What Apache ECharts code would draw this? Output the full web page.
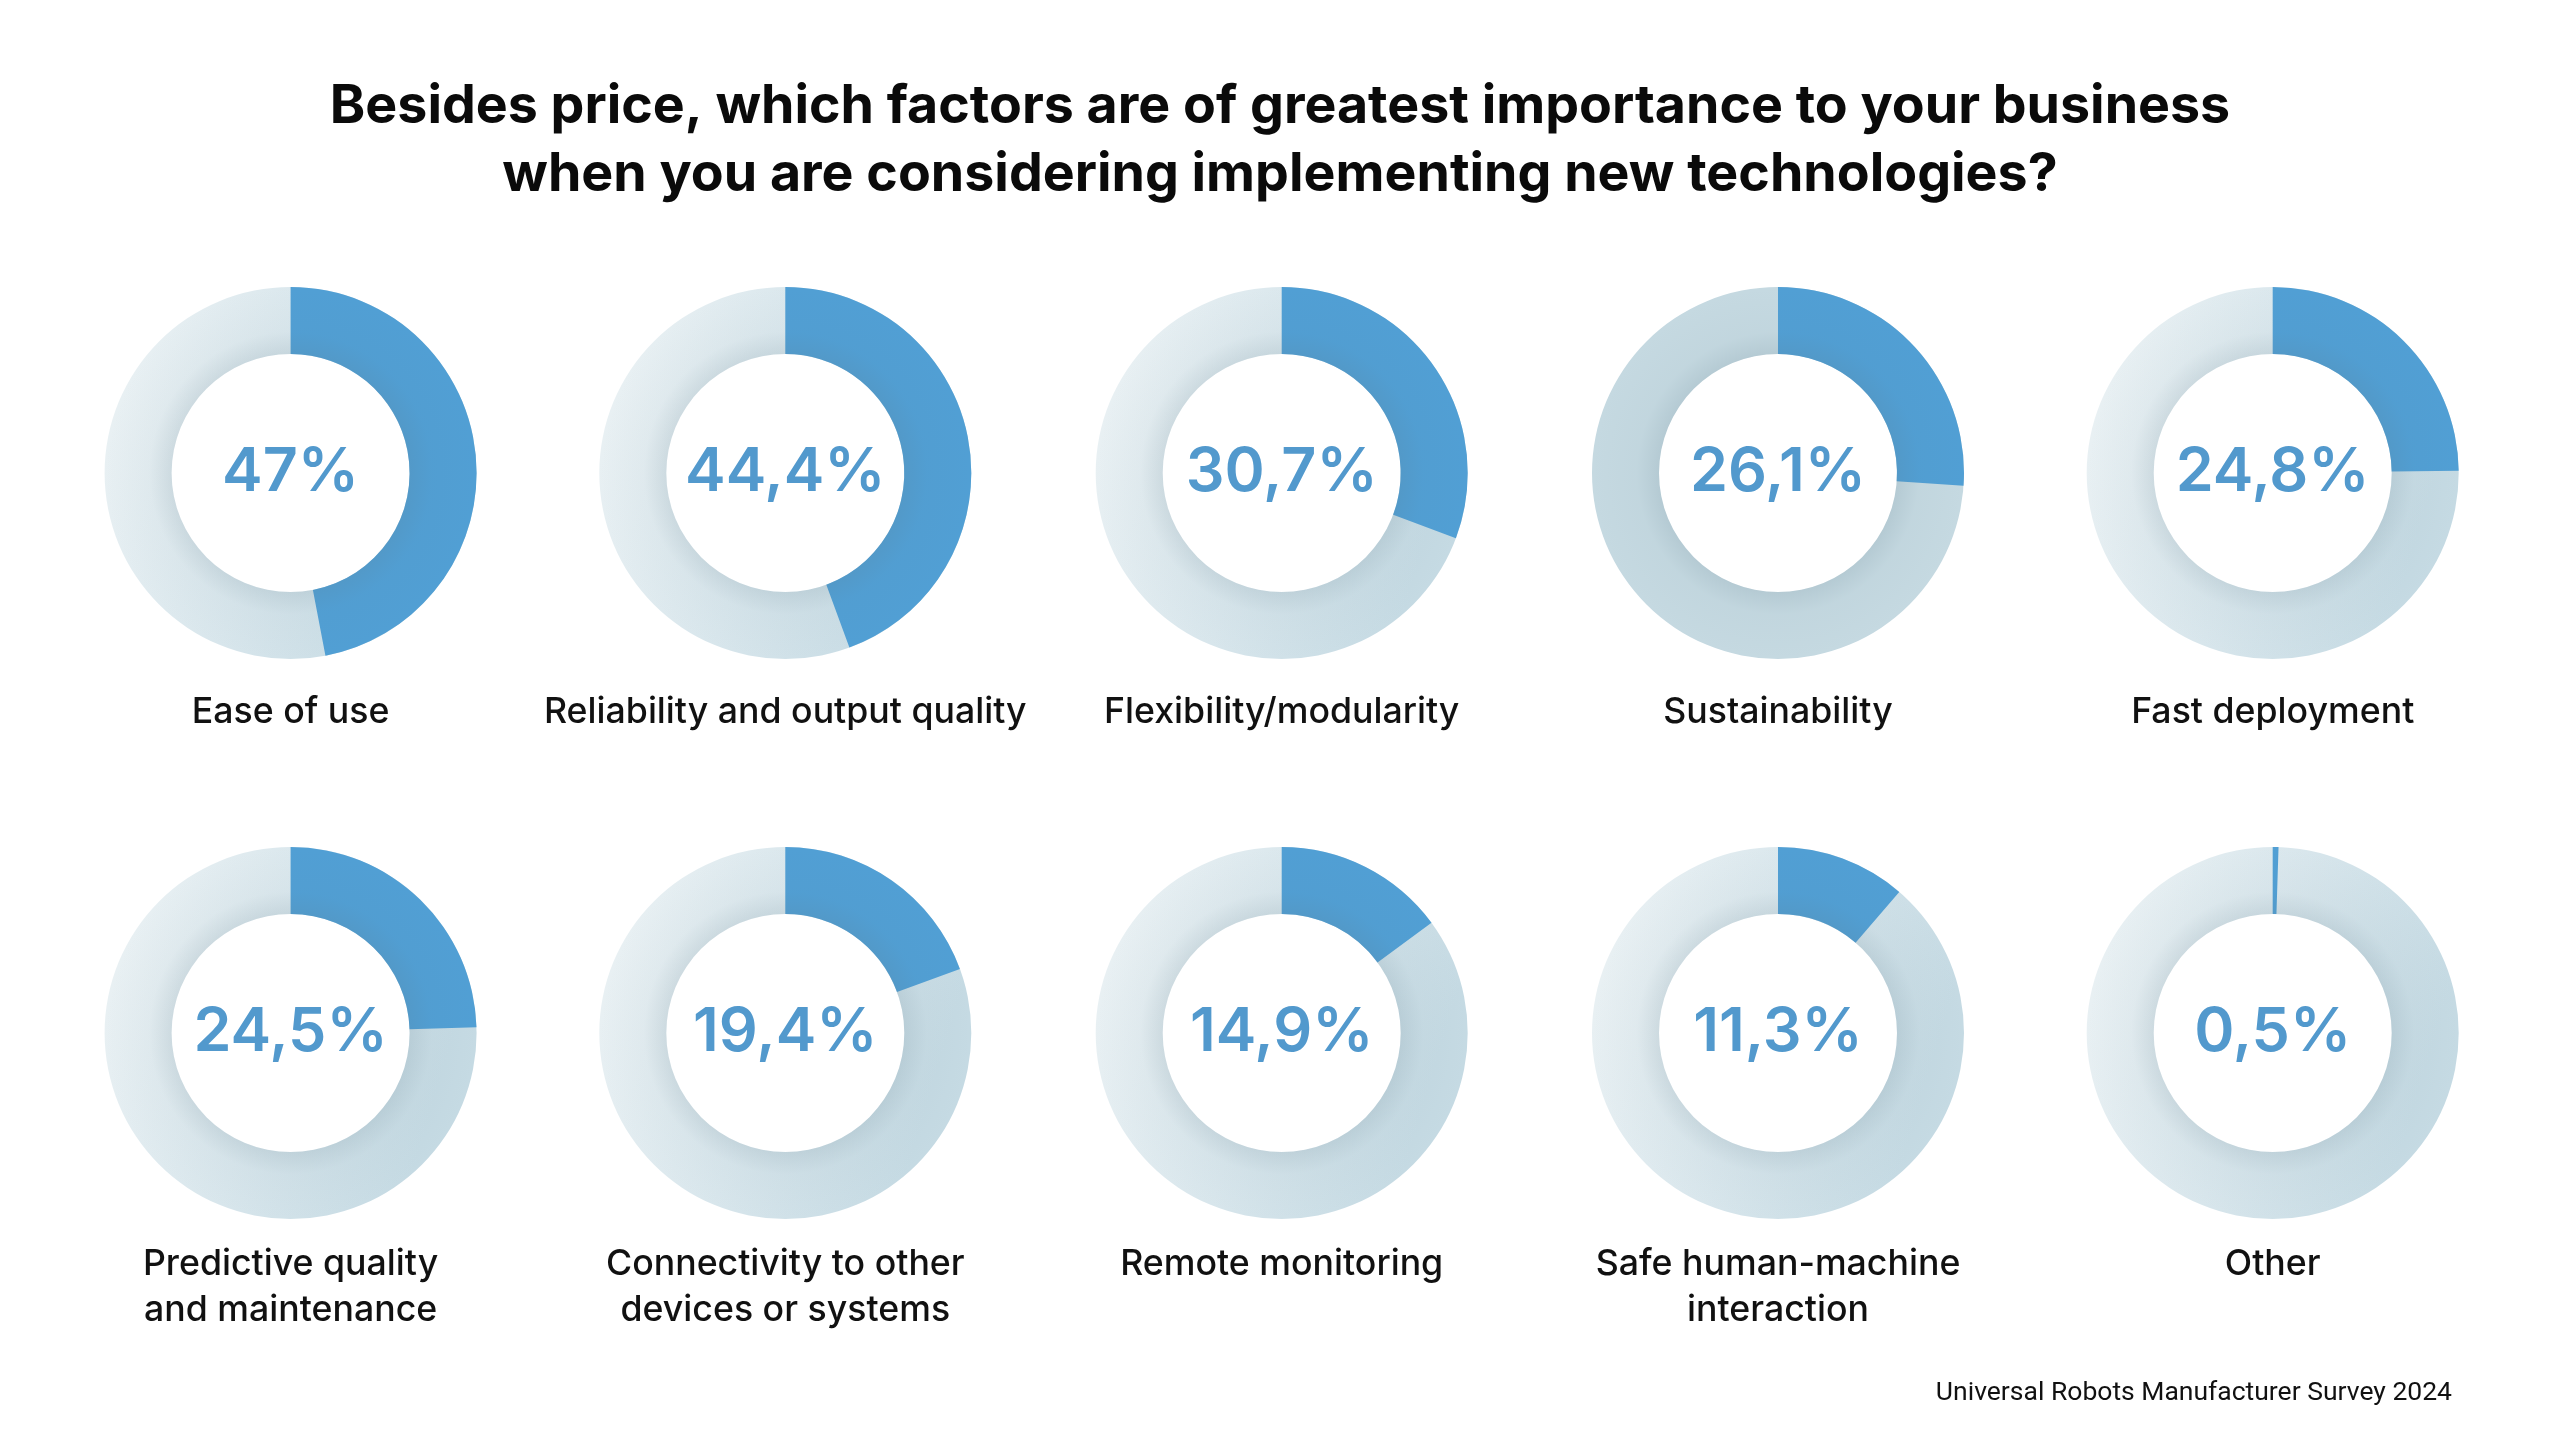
<!DOCTYPE html>
<html><head><meta charset="utf-8">
<script src="https://cdn.jsdelivr.net/npm/echarts@6/dist/echarts.min.js"></script>
<style>html,body{margin:0;padding:0;background:#fff}#c{width:2560px;height:1440px}</style>
</head><body><div id="c"></div>
<script>
// ---- data ----
const categories = [
  "Ease of use", "Reliability and output quality", "Flexibility/modularity", "Sustainability", "Fast deployment",
  "Predictive quality\nand maintenance", "Connectivity to other\ndevices or systems", "Remote monitoring",
  "Safe human-machine\ninteraction", "Other"
];
const values = [47, 44.4, 30.7, 26.1, 24.8, 24.5, 19.4, 14.9, 11.3, 0.5];
const titleText = "Besides price, which factors are of greatest importance to your business\nwhen you are considering implementing new technologies?";
const sourceText = "Universal Robots Manufacturer Survey 2024";

// ---- layout / style ----
const colX = [290.6, 785.3, 1281.7, 1778, 2272.7];
const rowY = [473, 1033];
const labelTop = [689, 1241];
const R_IN = 119, R_OUT = 186;
const BLUE = '#519fd4';
const TEXT_BLUE = '#5299cd';

function fmt(v) { return String(v).replace('.', ',') + '%'; }

const chart = echarts.init(document.getElementById('c'), null, {renderer: 'canvas'});
const series = [];
const graphics = [];

values.forEach((v, i) => {
  const cx = colX[i % 5], cy = rowY[Math.floor(i / 5)];
  const flat = (i === 3);
  const ringColor = flat ? '#c5d9e1' : new echarts.graphic.LinearGradient(0, 0, 1, 0.3, [
    {offset: 0, color: '#edf3f5'},
    {offset: 0.55, color: '#d8e6ec'},
    {offset: 1, color: '#c5dae3'}
  ]);
  series.push({
    type: 'pie', silent: true, center: [cx, cy], radius: [R_IN, R_OUT],
    label: {show: false}, labelLine: {show: false}, z: 1,
    itemStyle: {color: ringColor, borderWidth: 0},
    data: [{value: 100, name: 'bg' + i}], animation: false
  });
  series.push({
    type: 'pie', silent: true, center: [cx, cy], radius: [R_IN, R_OUT], startAngle: 90, clockwise: true,
    labelLine: {show: false}, z: 2, animation: false,
    data: [
      {value: v, name: categories[i], itemStyle: {color: BLUE, borderWidth: 0},
        label: {show: true, position: 'center', formatter: () => fmt(v),
          fontFamily: 'Inter', fontWeight: 600, fontSize: 61, color: TEXT_BLUE}},
      {value: 100 - v, name: 'rest', itemStyle: {color: 'rgba(0,0,0,0)', borderWidth: 0}, label: {show: false}}
    ]
  });
  series.push({
    type: 'pie', silent: true, center: [cx, cy], radius: [R_IN, R_OUT],
    label: {show: false}, labelLine: {show: false}, z: 3, animation: false,
    itemStyle: {borderWidth: 0, color: new echarts.graphic.RadialGradient(0.5, 0.5, 0.5, [
      {offset: 0.63, color: 'rgba(90,120,135,0.16)'},
      {offset: 0.76, color: 'rgba(90,120,135,0.03)'},
      {offset: 1, color: 'rgba(90,120,135,0)'}
    ])},
    data: [{value: 100, name: 'sh' + i}]
  });
  graphics.push({
    type: 'text', x: cx, y: labelTop[Math.floor(i / 5)], silent: true,
    style: {text: categories[i], textAlign: 'center', textVerticalAlign: 'top',
      font: '500 35.7px Inter', lineHeight: 46, fill: '#111'}
  });
});

graphics.push({
  type: 'text', x: 2452, y: 1393, silent: true,
  style: {text: sourceText, textAlign: 'right', textVerticalAlign: 'middle', font: '400 26.5px Roboto', fill: '#111'}
});
graphics.push({
  type: 'text', x: 1280, y: 73, silent: true,
  style: {text: titleText, textAlign: 'center', textVerticalAlign: 'top',
    font: '700 53.7px Inter', lineHeight: 68, fill: '#0a0a0a'}
});

chart.setOption({
  backgroundColor: '#ffffff',
  animation: false,
  series: series,
  graphic: graphics
});
</script></body></html>
